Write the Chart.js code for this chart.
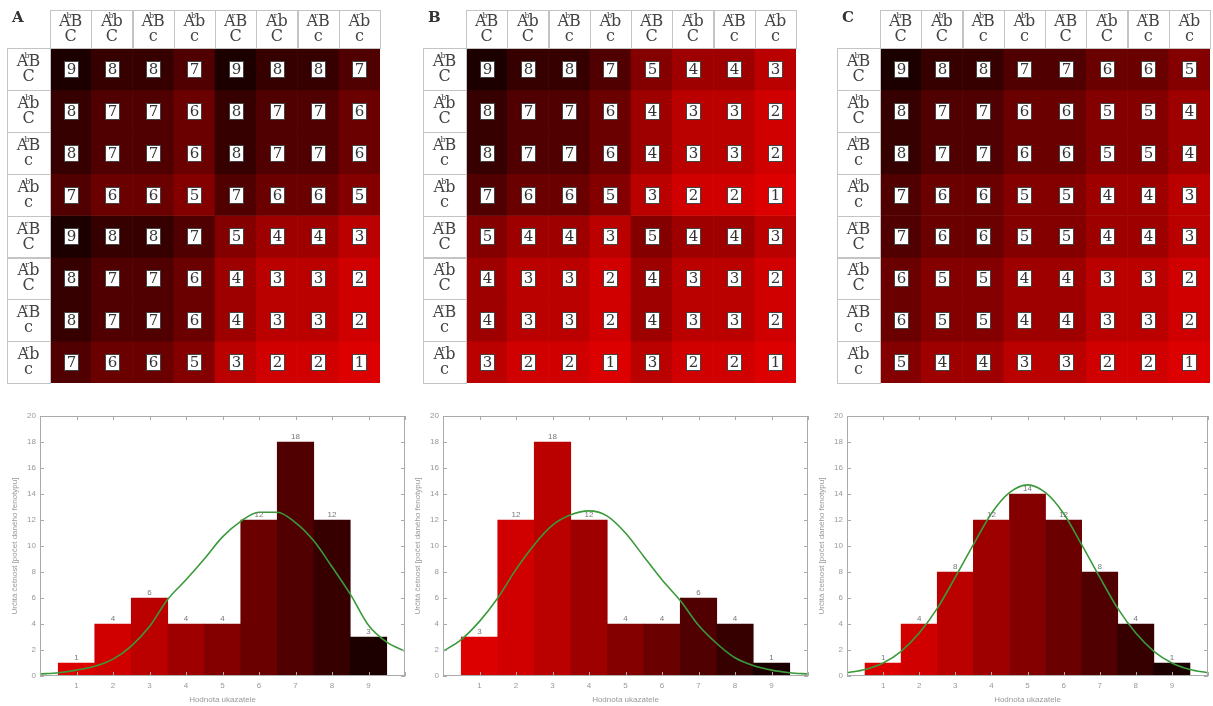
<!DOCTYPE html>
<html>
<head>
<meta charset="utf-8">
<script src="https://cdn.jsdelivr.net/npm/chart.js@4.4.1/dist/chart.umd.min.js"></script>
<style>
body{margin:0;background:#fff;}
#page{position:relative;width:1213px;height:706px;overflow:hidden;}
canvas{position:absolute;}
</style>
</head>
<body>
<div id="page">
<canvas id="heatA" width="375" height="381" style="left:7px;top:9px"></canvas>
<canvas id="heatB" width="375" height="381" style="left:423px;top:9px"></canvas>
<canvas id="heatC" width="375" height="381" style="left:837px;top:9px"></canvas>
<canvas id="histA" width="412" height="310" style="left:0px;top:396px"></canvas>
<canvas id="histB" width="412" height="310" style="left:403px;top:396px"></canvas>
<canvas id="histC" width="406" height="310" style="left:807px;top:396px"></canvas>
</div>
<script>
// genotypes of the gametes: [superscript of A, B/b, C/c]
const genotypes = [['b','B','C'],['b','b','C'],['b','B','c'],['b','b','c'],
                   ['r','B','C'],['r','b','C'],['r','B','c'],['r','b','c']];

const gridA = [
  [9,8,8,7,9,8,8,7],
  [8,7,7,6,8,7,7,6],
  [8,7,7,6,8,7,7,6],
  [7,6,6,5,7,6,6,5],
  [9,8,8,7,5,4,4,3],
  [8,7,7,6,4,3,3,2],
  [8,7,7,6,4,3,3,2],
  [7,6,6,5,3,2,2,1]
];
const gridB = [
  [9,8,8,7,5,4,4,3],
  [8,7,7,6,4,3,3,2],
  [8,7,7,6,4,3,3,2],
  [7,6,6,5,3,2,2,1],
  [5,4,4,3,5,4,4,3],
  [4,3,3,2,4,3,3,2],
  [4,3,3,2,4,3,3,2],
  [3,2,2,1,3,2,2,1]
];
const gridC = [
  [9,8,8,7,7,6,6,5],
  [8,7,7,6,6,5,5,4],
  [8,7,7,6,6,5,5,4],
  [7,6,6,5,5,4,4,3],
  [7,6,6,5,5,4,4,3],
  [6,5,5,4,4,3,3,2],
  [6,5,5,4,4,3,3,2],
  [5,4,4,3,3,2,2,1]
];

// histograms
const scores = [1,2,3,4,5,6,7,8,9];
const countsA = [1,4,6,4,4,12,18,12,3];
const countsB = [3,12,18,12,4,4,6,4,1];
const countsC = [1,4,8,12,14,12,8,4,1];

// fitted curve
const curveX = [0,0.5,1,1.5,2,2.5,3,3.5,4,4.5,5,5.5,6,6.5,7,7.5,8,8.5,9,9.5,10];
const curveA = [0.15,0.25,0.45,0.75,1.3,2.3,3.8,5.9,7.4,9.0,10.7,11.9,12.6,12.6,11.8,10.4,8.4,6.3,3.9,2.6,1.9];
const curveB = [1.9,2.8,4.2,6.0,8.2,10.1,11.6,12.4,12.7,12.3,11.0,9.2,7.4,5.8,3.9,2.5,1.4,0.8,0.45,0.25,0.15];
const curveC = [0.25,0.5,1.0,1.9,3.3,5.2,7.6,10.1,12.5,14.1,14.7,14.1,12.5,10.1,7.6,5.2,3.3,1.9,1.0,0.5,0.25];

const xTitle = 'Hodnota ukazatele';
const yTitle = 'Určitá četnost [počet daného fenotypu]';

const palette = ['#dc0000','#d00000','#bb0000','#9e0000','#840000','#6a0000','#500000','#360000','#1c0000'];
const serif = '"DejaVu Serif", "Liberation Serif", serif';

Chart.defaults.font.family = '"Liberation Sans", Arial, sans-serif';

function drawGeno(ctx, g, cx, y1, y2) {
  ctx.font = '16px ' + serif;
  const wA = ctx.measureText('A').width;
  const wB = ctx.measureText(g[1]).width;
  const x0 = cx - (wA + wB) / 2;
  ctx.textAlign = 'left';
  ctx.fillText('A', x0, y1);
  ctx.fillText(g[1], x0 + wA, y1);
  ctx.font = '8px ' + serif;
  ctx.fillText(g[0], x0 + wA - 4, y1 - 6);
  ctx.font = '16px ' + serif;
  ctx.textAlign = 'center';
  ctx.fillText(g[2], cx, y2);
}

const heatLabels = {
  id: 'heatLabels',
  afterDatasetsDraw(chart, args, opts) {
    const ctx = chart.ctx, area = chart.chartArea;
    const cols = chart.getDatasetMeta(0).data;
    const ys = chart.scales.y;
    ctx.save();
    ctx.textBaseline = 'middle';
    // boxes with the numbers
    opts.grid.forEach((row, r) => {
      const yc = Math.round((ys.getPixelForValue(r) + ys.getPixelForValue(r + 1)) / 2);
      row.forEach((v, c) => {
        const xc = Math.round(cols[c].x);
        ctx.fillStyle = '#fff';
        ctx.fillRect(xc - 7, yc - 8, 15, 17);
        ctx.strokeStyle = '#444';
        ctx.lineWidth = 1;
        ctx.strokeRect(xc - 6.5, yc - 7.5, 14, 16);
        ctx.fillStyle = '#333';
        ctx.font = '15px ' + serif;
        ctx.textAlign = 'center';
        ctx.fillText(v, xc + 0.5, yc + 1);
      });
    });
    // header row and row labels
    ctx.strokeStyle = '#c4c4c4';
    ctx.fillStyle = '#444';
    const top = 1;
    cols.forEach((el, c) => {
      const l = el.x - el.width / 2;
      ctx.strokeRect(Math.round(l) + 0.5, top + 0.5, Math.round(el.width), area.top - top);
      const mid = (top + area.top) / 2;
      drawGeno(ctx, genotypes[c], el.x, mid - 7, mid + 8);
    });
    genotypes.forEach((g, r) => {
      const t = ys.getPixelForValue(r), b = ys.getPixelForValue(r + 1);
      ctx.strokeRect(0.5, Math.round(t) + 0.5, area.left, Math.round(b - t));
      const mid = (t + b) / 2;
      drawGeno(ctx, g, area.left / 2, mid - 7, mid + 8);
    });
    ctx.font = 'bold 15px ' + serif;
    ctx.textAlign = 'left';
    ctx.fillStyle = '#333';
    ctx.fillText(opts.letter, 5, 9);
    ctx.restore();
  }
};

function heatChart(id, grid, letter) {
  const rows = grid.map((row, r) => ({
    data: row.map(() => [r, r + 1]),
    backgroundColor: row.map(v => palette[v - 1]),
    borderWidth: 0,
    barPercentage: 1,
    categoryPercentage: 1,
    grouped: false
  }));
  new Chart(document.getElementById(id), {
    type: 'bar',
    data: { labels: genotypes.map(g => 'A' + g.join('')), datasets: rows },
    options: {
      responsive: false,
      animation: false,
      layout: { padding: { left: 43, top: 39, right: 2, bottom: 7 } },
      plugins: {
        legend: { display: false },
        tooltip: { enabled: false },
        heatLabels: { grid: grid, letter: letter }
      },
      scales: {
        x: { display: false },
        y: { display: false, min: 0, max: 8, reverse: true }
      }
    },
    plugins: [heatLabels]
  });
}

const histDecor = {
  id: 'histDecor',
  afterDatasetsDraw(chart) {
    const ctx = chart.ctx, a = chart.chartArea, xs = chart.scales.x, ys = chart.scales.y;
    ctx.save();
    ctx.strokeStyle = '#aaa';
    ctx.lineWidth = 1;
    ctx.strokeRect(a.left + 0.5, a.top + 0.5, a.width - 1, a.height - 1);
    ctx.beginPath();
    xs.ticks.forEach(t => {
      const x = Math.round(xs.getPixelForValue(t.value)) + 0.5;
      ctx.moveTo(x, a.bottom); ctx.lineTo(x, a.bottom - 4);
      ctx.moveTo(x, a.top); ctx.lineTo(x, a.top + 4);
    });
    ys.ticks.forEach(t => {
      const y = Math.round(ys.getPixelForValue(t.value)) + 0.5;
      ctx.moveTo(a.left, y); ctx.lineTo(a.left + 4, y);
      ctx.moveTo(a.right, y); ctx.lineTo(a.right - 4, y);
    });
    ctx.stroke();
    const meta = chart.getDatasetMeta(1);
    const vals = chart.data.datasets[1].data;
    ctx.fillStyle = '#777';
    ctx.font = '8px "Liberation Sans"';
    ctx.textAlign = 'center';
    ctx.textBaseline = 'bottom';
    meta.data.forEach((el, i) => ctx.fillText(vals[i].y, el.x, el.y - 1));
    ctx.restore();
  }
};

function histChart(id, counts, curveY, padRight) {
  new Chart(document.getElementById(id), {
    type: 'bar',
    data: {
      datasets: [
        {
          type: 'line',
          data: curveX.map((x, i) => ({ x: x, y: curveY[i] })),
          borderColor: '#3a9a3a',
          borderWidth: 1.6,
          pointRadius: 0,
          cubicInterpolationMode: 'monotone',
          order: 0
        },
        {
          type: 'bar',
          data: scores.map((s, i) => ({ x: s, y: counts[i] })),
          backgroundColor: scores.map(s => palette[s - 1]),
          borderWidth: 0,
          barPercentage: 1,
          categoryPercentage: 1,
          order: 1
        }
      ]
    },
    options: {
      responsive: false,
      animation: false,
      layout: { padding: { left: 10, top: 20, right: padRight, bottom: 0 } },
      plugins: { legend: { display: false }, tooltip: { enabled: false } },
      scales: {
        x: {
          type: 'linear', min: 0, max: 10, offset: false,
          grid: { display: false, drawTicks: false }, border: { display: false },
          afterFit: s => { s.height = 30; },
          ticks: { stepSize: 1, color: '#999', font: { size: 8 }, padding: 5,
                   callback: v => (v > 0 && v < 10) ? v : '' },
          title: { display: true, text: xTitle, color: '#999', font: { size: 8 }, padding: { top: 2, bottom: 1 } }
        },
        y: {
          min: 0, max: 20,
          grid: { display: false, drawTicks: false }, border: { display: false },
          afterFit: s => { s.width = 30; },
          ticks: { stepSize: 2, color: '#999', font: { size: 8 }, padding: 4 },
          title: { display: true, text: yTitle, color: '#999', font: { size: 8 }, padding: 0 }
        }
      }
    },
    plugins: [histDecor]
  });
}

document.fonts.load('16px "DejaVu Serif"').then(() => {
  heatChart('heatA', gridA, 'A');
  heatChart('heatB', gridB, 'B');
  heatChart('heatC', gridC, 'C');
  histChart('histA', countsA, curveA, 7);
  histChart('histB', countsB, curveB, 7);
  histChart('histC', countsC, curveC, 1);
});
</script>
</body>
</html>
